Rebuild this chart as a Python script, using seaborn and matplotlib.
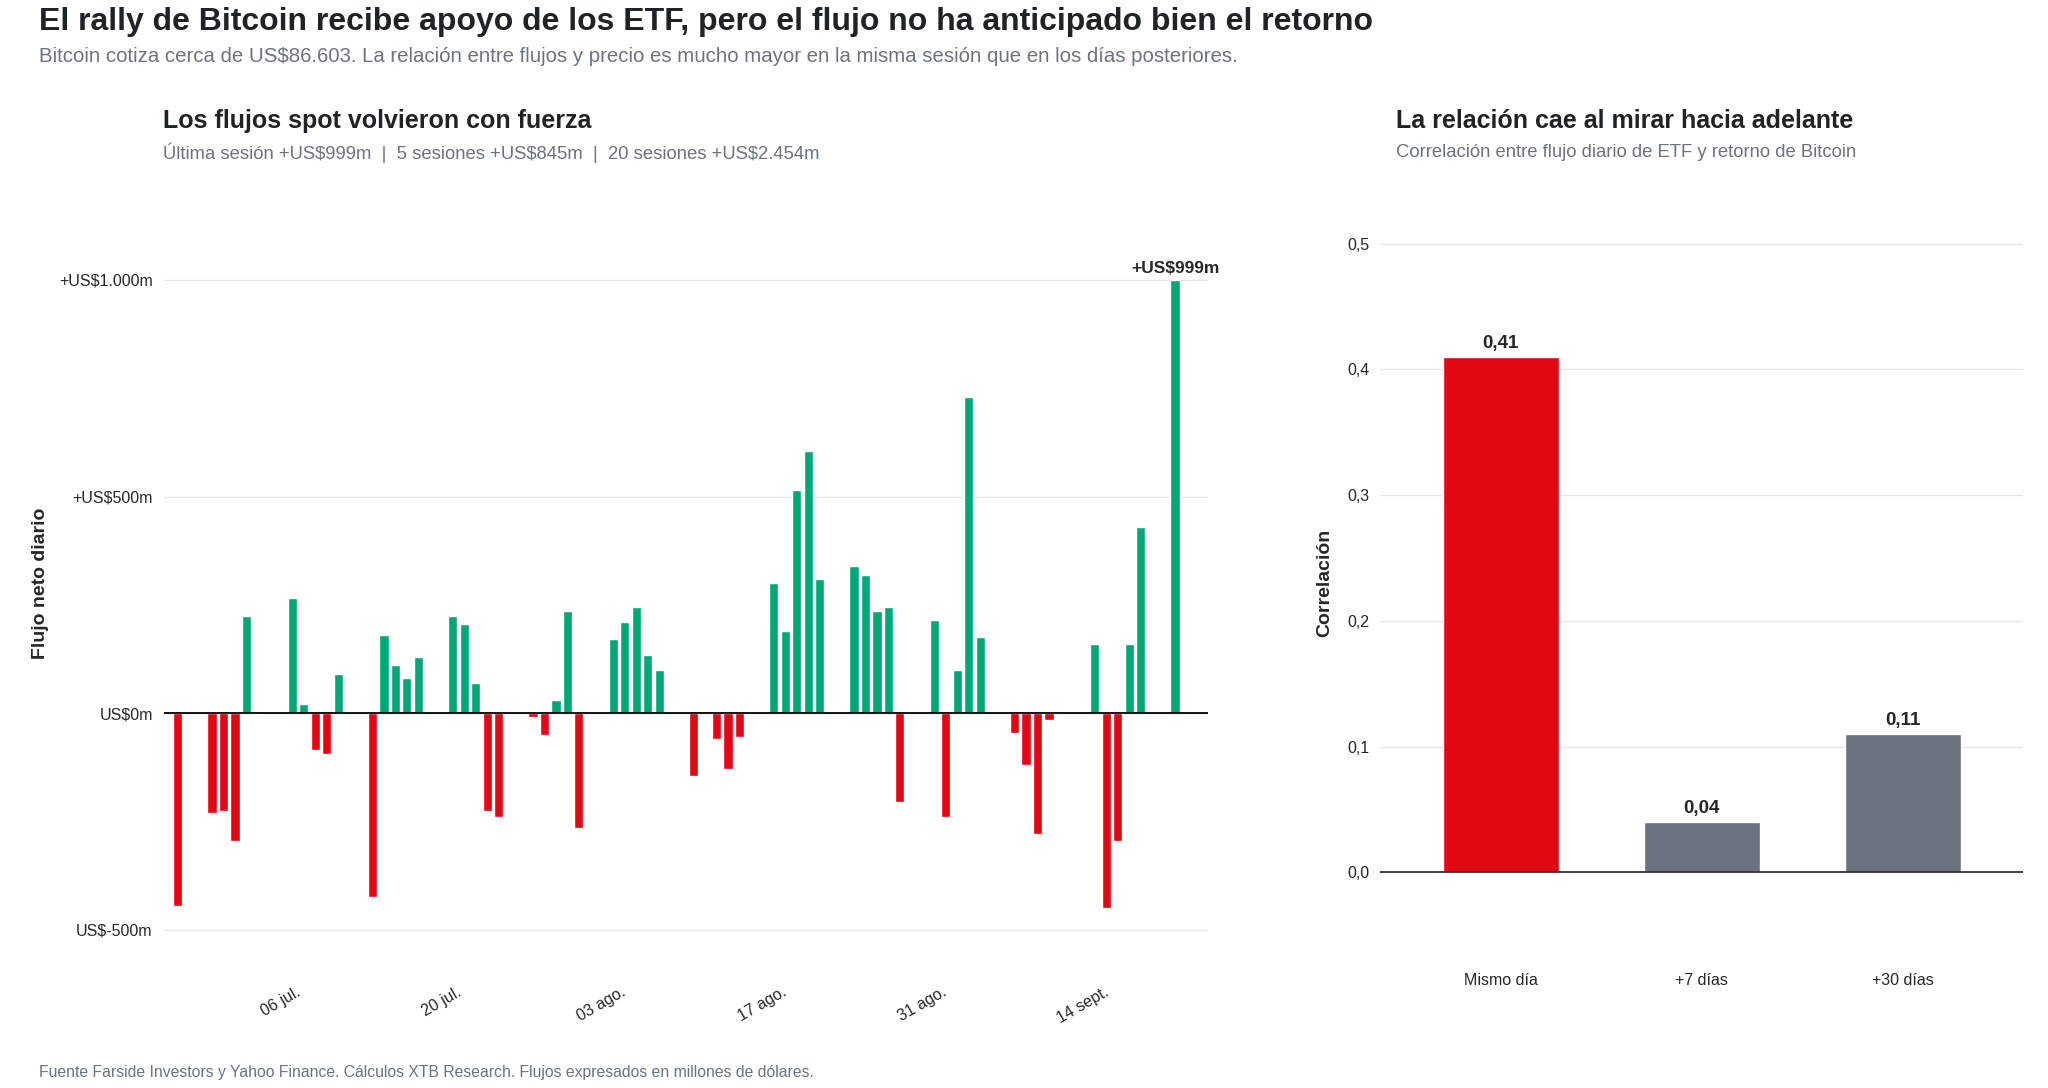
import numpy as np
import pandas as pd
import seaborn as sns
from matplotlib import pyplot as plt

sns.set_theme(style="white")
plt.rcParams['font.family'] = ['Liberation Sans', 'DejaVu Sans']

# daily net ETF flows (US$ m), business days 27 Jun - 22 Sep
fechas = pd.bdate_range("2025-06-30", "2025-09-22").insert(0, pd.Timestamp("2025-06-27"))
flujos = [-445,
          -230, -225, -295, 225, 0,
          265, 20, -85, -95, 90,
          -425, 180, 110, 80, 130,
          225, 205, 70, -225, -240,
          -10, -50, 30, 235, -265,
          170, 210, 245, 135, 100,
          -145, 5, -60, -130, -55,
          300, 190, 515, 605, 310,
          340, 320, 235, 245, -205,
          215, -240, 100, 730, 175,
          -45, -120, -280, -15, 0,
          160, -450, -295, 160, 430,
          999]
ticks_x = pd.to_datetime(["2025-07-06", "2025-07-20", "2025-08-03", "2025-08-17", "2025-08-31", "2025-09-14"])
ticks_x_lab = ["06 jul.", "20 jul.", "03 ago.", "17 ago.", "31 ago.", "14 sept."]

horizontes = ["Mismo día", "+7 días", "+30 días"]
correlacion = [0.41, 0.04, 0.11]

VERDE = "#00a878"
ROJO = "#e30613"
GRIS = "#6b7280"
GRID = "#e5e7eb"

fig = plt.figure(figsize=(20.48, 10.88), dpi=100)
ax1 = fig.add_axes([0.08, 0.108, 0.51, 0.712])
ax2 = fig.add_axes([0.674, 0.108, 0.314, 0.712])

# left panel
df = pd.DataFrame({"fecha": fechas, "flujo": flujos})
colores = [VERDE if v >= 0 else ROJO for v in df["flujo"]]
ax1.bar(df["fecha"], df["flujo"], width=0.8, color=colores, zorder=3)
ax1.set_ylim(-594, 1194)
ax1.set_xlim(fechas[0] - pd.Timedelta(days=1.2), fechas[-1] + pd.Timedelta(days=2.9))
ax1.set_yticks([-500, 0, 500, 1000])
ax1.set_yticklabels(["US$-500m", "US$0m", "+US$500m", "+US$1.000m"], fontsize=11.5)
ax1.yaxis.grid(True, color=GRID, lw=1, zorder=0)
ax1.axhline(0, color="black", lw=1.3, zorder=4)
ax1.set_xticks(ticks_x)
ax1.set_xticklabels(ticks_x_lab, rotation=30, ha="center", fontsize=11.5)
ax1.tick_params(axis="x", pad=10, length=0)
ax1.tick_params(axis="y", length=0, pad=8)
ax1.set_ylabel("Flujo neto diario", fontsize=14, fontweight="bold")
ax1.yaxis.set_label_coords(-0.11, 0.5)
for s in ax1.spines.values():
    s.set_visible(False)
ax1.text(df["fecha"].iloc[-1], flujos[-1] + 10, "+US$999m", ha="center", va="bottom",
         fontsize=12.5, fontweight="bold", clip_on=False)

# right panel
dc = pd.DataFrame({"horizonte": horizontes, "corr": correlacion})
sns.barplot(data=dc, x="horizonte", y="corr", hue="horizonte", saturation=1,
            palette=[ROJO, GRIS, GRIS], width=0.58, legend=False, ax=ax2, zorder=3)
ax2.set_ylim(-0.078, 0.538)
ax2.set_xlim(-0.6, 2.6)
ax2.set_yticks([0, 0.1, 0.2, 0.3, 0.4, 0.5])
ax2.set_yticklabels([f"{v:.1f}".replace(".", ",") for v in [0, 0.1, 0.2, 0.3, 0.4, 0.5]], fontsize=11.5)
ax2.yaxis.grid(True, color=GRID, lw=1, zorder=0)
ax2.axhline(0, color="#333333", lw=1.3, zorder=4)
ax2.set_xlabel("")
ax2.set_ylabel("Correlación", fontsize=14, fontweight="bold", labelpad=10)
ax2.tick_params(axis="x", length=0, pad=2, labelsize=11.5)
ax2.tick_params(axis="y", length=0, pad=8)
for s in ax2.spines.values():
    s.set_visible(False)
for i, v in enumerate(correlacion):
    ax2.text(i, v + 0.004, f"{v:.2f}".replace(".", ","), ha="center", va="bottom",
             fontsize=13.5, fontweight="bold")

# texts
fig.text(0.019, 0.9795, "El rally de Bitcoin recibe apoyo de los ETF, pero el flujo no ha anticipado bien el retorno",
         fontsize=23, fontweight="bold", color="#1f2328", va="center")
fig.text(0.019, 0.948, "Bitcoin cotiza cerca de US$86.603. La relación entre flujos y precio es mucho mayor en la misma sesión que en los días posteriores.",
         fontsize=14.7, color="#6b7280", va="center")
fig.text(0.0795, 0.889, "Los flujos spot volvieron con fuerza", fontsize=18, fontweight="bold", color="#1f2328", va="center")
fig.text(0.0795, 0.860, "Última sesión +US$999m  |  5 sesiones +US$845m  |  20 sesiones +US$2.454m",
         fontsize=13.3, color="#6b7280", va="center")
fig.text(0.6815, 0.889, "La relación cae al mirar hacia adelante", fontsize=18, fontweight="bold", color="#1f2328", va="center")
fig.text(0.6815, 0.860, "Correlación entre flujo diario de ETF y retorno de Bitcoin",
         fontsize=13.3, color="#6b7280", va="center")
fig.text(0.019, 0.0145, "Fuente Farside Investors y Yahoo Finance. Cálculos XTB Research. Flujos expresados en millones de dólares.",
         fontsize=11.3, color="#6b7280", va="center")

fig.savefig("out.png", dpi=100)
